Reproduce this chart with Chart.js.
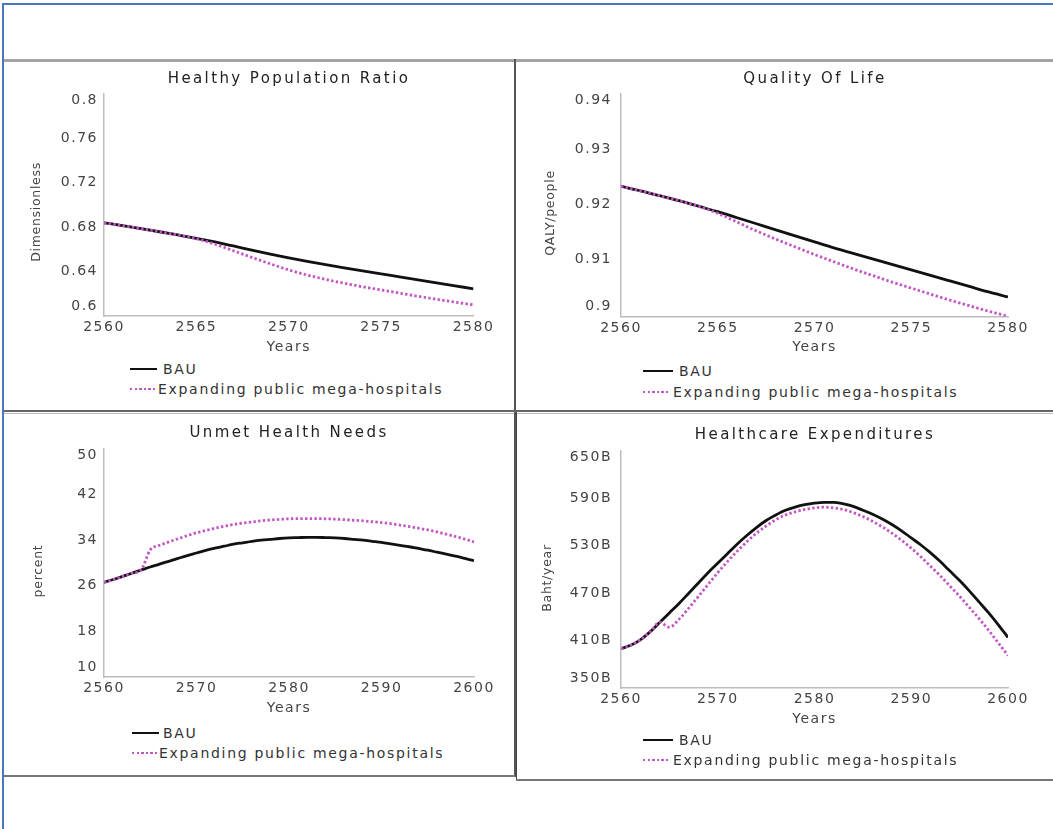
<!DOCTYPE html>
<html lang="en">
  <head>
    <meta charset="UTF-8" />
    <title>Health scenarios</title>
    <script src="https://cdnjs.cloudflare.com/ajax/libs/Chart.js/4.4.1/chart.umd.min.js"></script>
    <style>
      body {
        margin: 0;
        width: 1053px;
        height: 829px;
        overflow: hidden;
        background: #fff;
        font-family: "DejaVu Sans", sans-serif;
        position: relative;
      }
      .line {
        position: absolute;
      }
      canvas {
        position: absolute;
      }
      .title {
        position: absolute;
        transform: translate(-50%, -50%);
        white-space: nowrap;
        font-size: 15px;
        letter-spacing: 2.4px;
        color: #222;
      }
      .ytitle {
        position: absolute;
        transform: translate(-50%, -50%) rotate(-90deg);
        white-space: nowrap;
        font-size: 12.5px;
        letter-spacing: 0.7px;
        color: #444;
      }
      .legend-row {
        position: absolute;
        height: 18px;
        display: flex;
        align-items: center;
        font-size: 14px;
        letter-spacing: 1.7px;
        color: #333;
        white-space: nowrap;
      }
      .solid {
        height: 2.8px;
        background: #111;
      }
      .dotted {
        height: 2.8px;
        background: repeating-linear-gradient(
          to right,
          #c257c4 0 2.4px,
          transparent 2.4px 4.6px
        );
      }
    </style>
  </head>
  <body>
    <!-- frame and panel borders -->
    <div class="line" style="left:3px;top:3px;width:1050px;height:2px;background:#4a76c0"></div>
    <div class="line" style="left:2px;top:3px;width:2px;height:826px;background:#4a76c0"></div>
    <div class="line" style="left:4px;top:59px;width:1049px;height:3px;background:#a4a4a4"></div>
    <div class="line" style="left:514px;top:59px;width:2px;height:353px;background:#555"></div>
    <div class="line" style="left:4px;top:410px;width:1049px;height:2px;background:#666"></div>
    <div class="line" style="left:4px;top:413px;width:1049px;height:1px;background:#bbb"></div>
    <div class="line" style="left:514px;top:412px;width:2px;height:365px;background:#555"></div>
    <div class="line" style="left:4px;top:775px;width:511px;height:2px;background:#777"></div>
    <div class="line" style="left:516px;top:412px;width:1px;height:369px;background:#444"></div>
    <div class="line" style="left:516px;top:779px;width:537px;height:2px;background:#777"></div>

    <canvas id="c1" width="508" height="298" style="left:5px;top:62px"></canvas>
    <canvas id="c2" width="534" height="298" style="left:517px;top:62px"></canvas>
    <canvas id="c3" width="508" height="308" style="left:5px;top:414px"></canvas>
    <canvas id="c4" width="532" height="319" style="left:519px;top:414px"></canvas>

    <div class="title" style="left:289px;top:78px">Healthy Population Ratio</div>
    <div class="title" style="left:815px;top:78px">Quality Of Life</div>
    <div class="title" style="left:289px;top:432px">Unmet Health Needs</div>
    <div class="title" style="left:815px;top:434px">Healthcare Expenditures</div>

    <div class="ytitle" style="left:35px;top:212px">Dimensionless</div>
    <div class="ytitle" style="left:549px;top:213px">QALY/people</div>
    <div class="ytitle" style="left:37px;top:571px">percent</div>
    <div class="ytitle" style="left:546px;top:578px">Baht/year</div>

    <script>
      const years20 = [
        2560, 2561, 2562, 2563, 2564, 2565, 2566, 2567, 2568, 2569, 2570,
        2571, 2572, 2573, 2574, 2575, 2576, 2577, 2578, 2579, 2580,
      ];
      const years40 = [
        2560, 2561, 2562, 2563, 2564, 2565, 2566, 2567, 2568, 2569, 2570,
        2571, 2572, 2573, 2574, 2575, 2576, 2577, 2578, 2579, 2580,
        2581, 2582, 2583, 2584, 2585, 2586, 2587, 2588, 2589, 2590,
        2591, 2592, 2593, 2594, 2595, 2596, 2597, 2598, 2599, 2600,
      ];
      const seriesNames = ["BAU", "Expanding public mega-hospitals"];

      // Healthy Population Ratio (Dimensionless)
      const healthyBAU = [
        0.684, 0.6814, 0.6787, 0.6759, 0.673, 0.67, 0.6667, 0.6631, 0.6594,
        0.6558, 0.6524, 0.6492, 0.6462, 0.6434, 0.6407, 0.638, 0.6353,
        0.6326, 0.6299, 0.6272, 0.6245,
      ];
      const healthyMega = [
        0.684, 0.6814, 0.6787, 0.6759, 0.673, 0.6696, 0.6648, 0.6588,
        0.6528, 0.647, 0.6415, 0.6369, 0.633, 0.6295, 0.6263, 0.6235,
        0.6206, 0.6178, 0.6151, 0.6125, 0.61,
      ];
      const healthyTicks = [0.6, 0.64, 0.68, 0.72, 0.76, 0.8];

      // Quality Of Life (QALY/people)
      const qualityBAU = [
        0.9232, 0.9224, 0.9215, 0.9206, 0.9196, 0.9186, 0.9175, 0.9164,
        0.9153, 0.9142, 0.9131, 0.912, 0.911, 0.91, 0.909, 0.908, 0.907,
        0.906, 0.905, 0.904, 0.9031,
      ];
      const qualityMega = [
        0.9232, 0.9224, 0.9215, 0.9206, 0.9196, 0.9183, 0.9167, 0.9151,
        0.9136, 0.9122, 0.9108, 0.9095, 0.9082, 0.907, 0.9058, 0.9047,
        0.9036, 0.9025, 0.9015, 0.9005, 0.8996,
      ];
      const qualityTicks = [0.9, 0.91, 0.92, 0.93, 0.94];

      // Unmet Health Needs (percent)
      const unmetBAU = [
        26.6, 27.1, 27.65, 28.2, 28.75, 29.3, 29.8, 30.3, 30.8, 31.3, 31.75,
        32.2, 32.6, 32.95, 33.3, 33.55, 33.8, 34.0, 34.15, 34.3, 34.4,
        34.45, 34.5, 34.5, 34.45, 34.4, 34.3, 34.15, 34.0, 33.8, 33.6,
        33.35, 33.1, 32.85, 32.55, 32.25, 31.9, 31.55, 31.2, 30.8, 30.4,
      ];
      const unmetMega = [
        26.6, 27.1, 27.65, 28.2, 28.75, 32.3, 33.1, 33.7, 34.25, 34.8, 35.3,
        35.7, 36.1, 36.45, 36.75, 37.0, 37.2, 37.4, 37.55, 37.65, 37.75,
        37.8, 37.8, 37.8, 37.75, 37.7, 37.6, 37.5, 37.4, 37.25, 37.1,
        36.9, 36.65, 36.4, 36.1, 35.8, 35.45, 35.05, 34.65, 34.2, 33.7,
      ];
      const unmetTicks = [10, 18, 26, 34, 42, 50];

      // Healthcare Expenditures (billion Baht/year)
      const spendBAU = [
        400, 404, 411, 421, 433, 445, 457, 470, 483, 496, 508,
        520, 532, 543, 553, 562, 569, 575, 579, 582, 584,
        585, 585, 583, 580, 575, 570, 564, 557, 549, 540,
        531, 521, 510, 498, 486, 473, 459, 445, 430, 414,
      ];
      const spendMega = [
        400, 404, 411, 421, 433, 427, 437, 451, 466, 481, 496,
        510, 523, 535, 546, 555, 563, 569, 573, 576, 578,
        579, 578, 576, 572, 567, 561, 554, 546, 537, 527,
        516, 504, 492, 479, 466, 452, 438, 423, 407, 391,
      ];
      const spendTicks = [350, 410, 470, 530, 590, 650];

      const xTicks20 = [2560, 2565, 2570, 2575, 2580];
      const xTicks40 = [2560, 2570, 2580, 2590, 2600];

      Chart.defaults.font.family = "'DejaVu Sans', sans-serif";
      Chart.defaults.font.size = 14;
      Chart.defaults.color = "#444";

      // the top and bottom y labels sit a little inside the axis ends
      const edgeLabels = {
        id: "edgeLabels",
        beforeDraw(chart) {
          chart.ctx.letterSpacing = "1.5px";
          const area = chart.chartArea;
          const items = chart.scales.y.getLabelItems(area);
          if (items.length > 1) {
            items[0].options.translation[1] = area.bottom - 10;
            items[items.length - 1].options.translation[1] = area.top + 6;
          }
        },
      };

      function makeChart(id, p) {
        return new Chart(document.getElementById(id), {
          type: "line",
          data: {
            labels: p.years,
            datasets: [
              {
                label: seriesNames[0],
                data: p.bau,
                borderColor: "#111",
                borderWidth: 2.8,
                pointRadius: 0,
                cubicInterpolationMode: "monotone",
                order: 1,
              },
              {
                label: seriesNames[1],
                data: p.mega,
                borderColor: "#c257c4",
                borderWidth: 2.8,
                borderDash: [2.4, 2.3],
                pointRadius: 0,
                cubicInterpolationMode: "monotone",
                order: 0,
              },
            ],
          },
          options: {
            responsive: false,
            animation: false,
            devicePixelRatio: 1,
            layout: {
              padding: { top: p.top, right: p.right, left: 0, bottom: 0 },
            },
            plugins: {
              legend: { display: false },
              tooltip: { enabled: false },
            },
            scales: {
              x: {
                type: "linear",
                min: p.xTicks[0],
                max: p.xTicks[p.xTicks.length - 1],
                grid: { display: false, drawTicks: false },
                border: { color: "#bdbdbd", width: 1.5 },
                afterBuildTicks: (s) => {
                  s.ticks = p.xTicks.map((v) => ({ value: v }));
                },
                afterFit: (s) => {
                  s.height = p.xh;
                },
                ticks: {
                  padding: 3,
                  maxRotation: 0,
                  autoSkip: false,
                  callback: (v) => String(v),
                },
                title: {
                  display: true,
                  text: "Years",
                  color: "#444",
                  font: { size: 14 },
                  padding: { top: 0, bottom: p.xh - 8.4 - 31 },
                },
              },
              y: {
                min: p.yMin,
                max: p.yMax,
                grid: { display: false, drawTicks: false },
                border: { color: "#bdbdbd", width: 1.5 },
                afterBuildTicks: (s) => {
                  s.ticks = p.yTicks.map((v) => ({ value: v }));
                },
                afterFit: (s) => {
                  s.width = p.left;
                },
                ticks: {
                  padding: p.tickPad,
                  callback: (v) => v + p.suffix,
                },
              },
            },
          },
          plugins: [edgeLabels],
        });
      }

      function addLegend(chart, rows) {
        chart.data.datasets.forEach((ds, i) => {
          const r = rows[i];
          const row = document.createElement("div");
          row.className = "legend-row";
          row.style.left = r.x + "px";
          row.style.top = r.y - 9 + "px";
          const sample = document.createElement("span");
          sample.className = i === 0 ? "solid" : "dotted";
          sample.style.width = r.w + "px";
          const text = document.createElement("span");
          text.textContent = ds.label;
          text.style.marginLeft = r.gap + "px";
          row.appendChild(sample);
          row.appendChild(text);
          document.body.appendChild(row);
        });
      }

      const healthyChart = makeChart("c1", {
        years: years20, bau: healthyBAU, mega: healthyMega,
        xTicks: xTicks20, yTicks: healthyTicks, yMin: 0.6, yMax: 0.8,
        suffix: "", left: 99, right: 39.5, top: 32, xh: 44, tickPad: 6,
      });
      const qualityChart = makeChart("c2", {
        years: years20, bau: qualityBAU, mega: qualityMega,
        xTicks: xTicks20, yTicks: qualityTicks, yMin: 0.8995, yMax: 0.94,
        suffix: "", left: 104, right: 43, top: 32, xh: 43.3, tickPad: 9,
      });
      const unmetChart = makeChart("c3", {
        years: years40, bau: unmetBAU, mega: unmetMega,
        xTicks: xTicks40, yTicks: unmetTicks, yMin: 10, yMax: 50,
        suffix: "", left: 99, right: 39, top: 35, xh: 45, tickPad: 6,
      });
      const spendChart = makeChart("c4", {
        years: years40, bau: spendBAU, mega: spendMega,
        xTicks: xTicks40, yTicks: spendTicks, yMin: 350, yMax: 650,
        suffix: "B", left: 102, right: 43, top: 37, xh: 45, tickPad: 9,
      });

      addLegend(healthyChart, [
        { x: 130, y: 369, w: 27, gap: 6 },
        { x: 130, y: 389, w: 26, gap: 2 },
      ]);
      addLegend(qualityChart, [
        { x: 643, y: 371, w: 30, gap: 6 },
        { x: 643, y: 392, w: 28, gap: 2 },
      ]);
      addLegend(unmetChart, [
        { x: 132, y: 733, w: 27, gap: 4 },
        { x: 132, y: 753, w: 25, gap: 2 },
      ]);
      addLegend(spendChart, [
        { x: 643, y: 740, w: 30, gap: 6 },
        { x: 643, y: 760, w: 28, gap: 2 },
      ]);
    </script>
  </body>
</html>
